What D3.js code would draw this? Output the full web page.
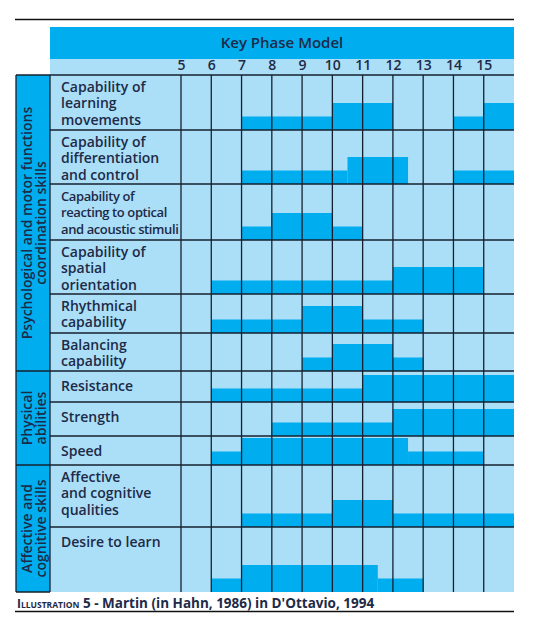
<!DOCTYPE html>
<html><head><meta charset="utf-8">
<script src="https://cdn.jsdelivr.net/npm/d3@7"></script>
<style>
html,body{margin:0;padding:0;background:#fff;}
svg{display:block;}
text{font-family:"Open Sans",Lato,sans-serif;fill:#1d2a48;}
</style></head>
<body>
<svg id="chart" width="533" height="631"></svg>
<script>
// ---------- DATA ----------
const title = "Key Phase Model";
const ages = [5, 6, 7, 8, 9, 10, 11, 12, 13, 14, 15];
const groupLabels = [
  ["Psychological and motor functions", "coordination skills"],
  ["Physical", "abilities"],
  ["Affective and", "cognitive skills"]
];
const skillLabels = [
  ["Capability of", "learning", "movements"],
  ["Capability of", "differentiation", "and control"],
  ["Capability of", "reacting to optical", "and acoustic stimuli"],
  ["Capability of", "spatial", "orientation"],
  ["Rhythmical", "capability"],
  ["Balancing", "capability"],
  ["Resistance"],
  ["Strength"],
  ["Speed"],
  ["Affective", "and cognitive", "qualities"],
  ["Desire to learn"]
];
const skillGroup = [0, 0, 0, 0, 0, 0, 1, 1, 1, 2, 2];
// segments: [fromAge, toAge, level]  (1 = sensitive, 2 = highly sensitive)
const phases = [
  [[7, 10, 1], [10, 12, 2], [14, 15, 1], [15, 16, 2]],
  [[7, 10.5, 1], [10.5, 12.5, 2], [14, 16, 1]],
  [[7, 8, 1], [8, 10, 2], [10, 11, 1]],
  [[6, 12, 1], [12, 15, 2]],
  [[6, 9, 1], [9, 11, 2], [11, 13, 1]],
  [[9, 10, 1], [10, 12, 2], [12, 13, 1]],
  [[6, 11, 1], [11, 16, 2]],
  [[8, 12, 1], [12, 16, 2]],
  [[6, 7, 1], [7, 12.5, 2], [12.5, 15, 1]],
  [[7, 10, 1], [10, 12, 2], [12, 16, 1]],
  [[6, 7, 1], [7, 11.5, 2], [11.5, 13, 1]]
];
const captionSmallCaps = ["I", "LLUSTRATION"];
const captionRest = " 5 - Martin (in Hahn, 1986) in D'Ottavio, 1994";

// ---------- LAYOUT ----------
const rowHeights = [55, 54, 56, 54, 39, 38, 31, 34, 29, 62, 65];
const gridTop = 75, bandLeft = 16, labelLeft = 50, gridLeft = 181, gridRight = 514;
const dark = "#00aeef", light = "#abdff7", line = "#16202e";

const svg = d3.select("#chart");
const x = d3.scaleLinear().domain([5, 16]).range([gridLeft, gridRight]);
const h = d3.scaleLinear().domain([0, 2]).range([0, 27]);

const rowTops = [];
let acc = gridTop;
rowHeights.forEach(v => { rowTops.push(acc); acc += v; });
const gridBottom = acc;

// top rule
svg.append("line").attr("x1", 15).attr("x2", gridRight).attr("y1", 19.5).attr("y2", 19.5)
  .attr("stroke", "#111").attr("stroke-width", 1.3);

// header
svg.append("rect").attr("x", labelLeft).attr("y", 27).attr("width", gridRight - labelLeft).attr("height", 32).attr("fill", dark);
svg.append("rect").attr("x", labelLeft).attr("y", 59).attr("width", gridRight - labelLeft).attr("height", gridTop - 59).attr("fill", light);
svg.append("text").attr("x", (labelLeft + gridRight) / 2).attr("y", 48).attr("text-anchor", "middle")
  .attr("font-size", 15).attr("font-weight", 600).text(title);

// age axis
const axis = d3.axisTop(x).tickValues(ages).tickSize(0).tickPadding(0).tickFormat(d3.format("d"));
const ax = svg.append("g").attr("transform", "translate(0,70)").call(axis);
ax.select(".domain").remove();
ax.selectAll("text").attr("font-size", 14).attr("font-weight", 600).attr("fill", "#1d2a48")
  .attr("font-family", "'Open Sans',Lato,sans-serif").attr("dy", 0);

// body backgrounds
svg.append("rect").attr("x", labelLeft).attr("y", gridTop).attr("width", gridRight - labelLeft)
  .attr("height", gridBottom - gridTop).attr("fill", light);

// group bands
const groupExtents = groupLabels.map((g, gi) => {
  const idx = skillGroup.map((s, i) => s === gi ? i : -1).filter(i => i >= 0);
  const top = rowTops[idx[0]];
  const last = idx[idx.length - 1];
  return [top, rowTops[last] + rowHeights[last]];
});
svg.selectAll("rect.band").data(groupExtents).join("rect").attr("class", "band")
  .attr("x", bandLeft).attr("y", d => d[0]).attr("width", labelLeft - bandLeft)
  .attr("height", d => d[1] - d[0]).attr("fill", dark);

// bars
const barG = svg.append("g");
phases.forEach((segs, r) => {
  const bottom = rowTops[r] + rowHeights[r];
  barG.selectAll(null).data(segs).join("rect")
    .attr("x", d => x(d[0])).attr("width", d => x(d[1]) - x(d[0]))
    .attr("y", d => bottom - h(d[2])).attr("height", d => h(d[2]))
    .attr("fill", dark);
});

// grid lines
const lg = svg.append("g").attr("stroke", line).attr("stroke-width", 1.3);
// horizontal row lines
rowTops.forEach((t, i) => {
  const isGroupStart = i === 0 || skillGroup[i] !== skillGroup[i - 1];
  lg.append("line").attr("x1", isGroupStart ? bandLeft : labelLeft).attr("x2", gridRight)
    .attr("y1", t).attr("y2", t);
});
lg.append("line").attr("x1", bandLeft).attr("x2", labelLeft).attr("y1", gridBottom).attr("y2", gridBottom);
// vertical lines
[bandLeft, labelLeft].forEach(v => lg.append("line").attr("x1", v).attr("x2", v).attr("y1", gridTop).attr("y2", gridBottom));
ages.forEach(a => lg.append("line").attr("x1", x(a)).attr("x2", x(a)).attr("y1", gridTop).attr("y2", gridBottom));

// skill labels
skillLabels.forEach((lines, r) => {
  const base = rowTops[r] + (lines.length === 1 ? 20 : 17);
  const t = svg.append("text").attr("x", 61).attr("y", base)
    .attr("font-size", r === 2 ? 13 : 14).attr("font-weight", 600)
    .attr("letter-spacing", r === 2 ? -0.4 : 0);
  lines.forEach((l, k) => t.append("tspan").attr("x", 61).attr("y", base + k * 16.3).text(l));
});

// group labels (rotated)
groupLabels.forEach((lines, gi) => {
  const cy = (groupExtents[gi][0] + groupExtents[gi][1]) / 2;
  lines.forEach((l, k) => {
    svg.append("text").attr("transform", `translate(${32 + k * 14},${cy}) rotate(-90)`)
      .attr("text-anchor", "middle").attr("font-size", 14).attr("font-weight", 600).text(l);
  });
});

// caption
const cap = svg.append("text").attr("x", 17).attr("y", 608).attr("font-weight", 700).attr("font-size", 13.5);
cap.append("tspan").attr("font-size", 12).text(captionSmallCaps[0]);
cap.append("tspan").attr("font-size", 8.5).text(captionSmallCaps[1]);
cap.append("tspan").text(captionRest);
svg.append("line").attr("x1", 15).attr("x2", gridRight).attr("y1", 611.5).attr("y2", 611.5)
  .attr("stroke", "#111").attr("stroke-width", 1.3);
</script>
</body></html>
